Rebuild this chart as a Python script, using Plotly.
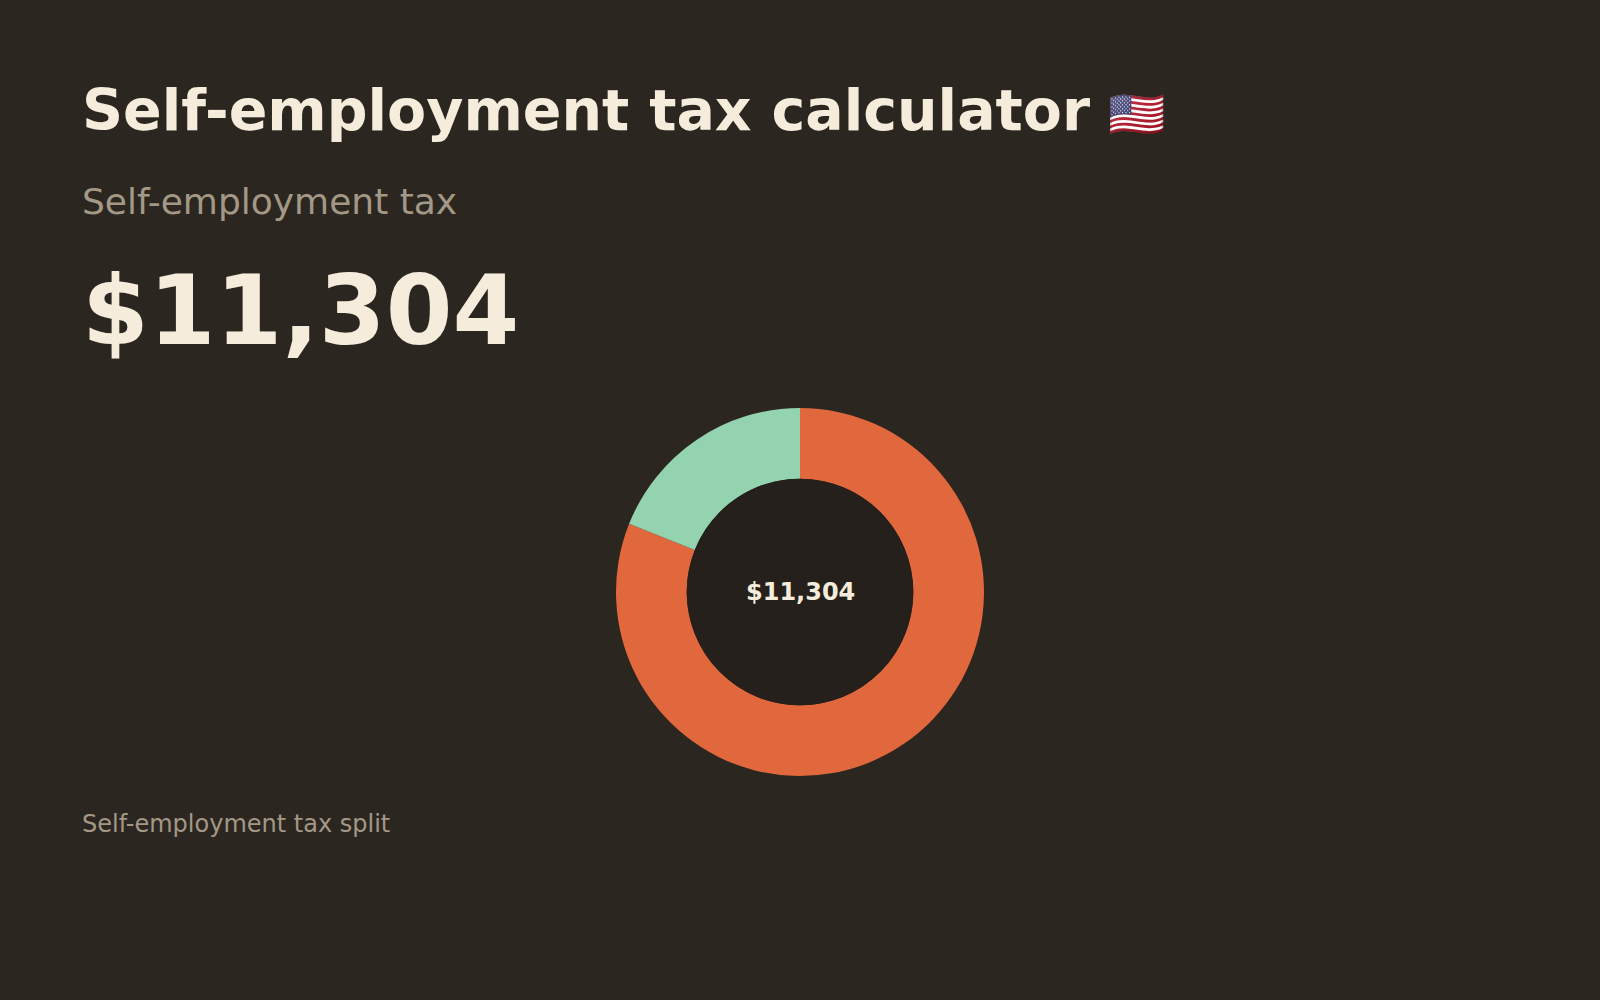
import plotly.graph_objects as go

# Data
title_text = "Self-employment tax calculator"
title_flag = "🇺🇸"
subtitle_text = "Self-employment tax"
total_label = "$11,304"
footer_text = "Self-employment tax split"
components = ["Social Security", "Medicare"]
amounts = [9161, 2143]
colors = ["#e0683c", "#93d3b0"]

BG = "#2b2620"
HOLE = "#25201b"
CREAM = "#f5ecdc"
GRAY = "#a39886"
FONT = "DejaVu Sans"

W, H = 1600, 1000
cx, cy = 800, 408  # from bottom
R_out, R_in = 184, 113.3

fig = go.Figure()
fig.add_trace(go.Pie(
    labels=components, values=amounts, sort=False, direction="clockwise",
    rotation=0, hole=R_in / R_out,
    marker=dict(colors=colors, line=dict(width=0)),
    textinfo="none", hoverinfo="label+value", showlegend=False,
    domain=dict(x=[(cx - R_out) / W, (cx + R_out) / W], y=[(cy - R_out) / H, (cy + R_out) / H]),
))
fig.add_trace(go.Pie(
    labels=["hole"], values=[1], sort=False,
    marker=dict(colors=[HOLE], line=dict(width=0)),
    textinfo="none", hoverinfo="skip", showlegend=False,
    domain=dict(x=[(cx - R_in) / W, (cx + R_in) / W], y=[(cy - R_in) / H, (cy + R_in) / H]),
))

annotations = [
    dict(text=f"<b>{title_text}</b> <span style='font-size:46px'>{title_flag}</span>",
         x=80 / W, y=1 - 110 / H, xanchor="left", yanchor="middle",
         font=dict(size=57, color=CREAM, family=FONT)),
    dict(text=subtitle_text, x=80 / W, y=1 - 202 / H, xanchor="left", yanchor="middle",
         font=dict(size=36, color=GRAY, family=FONT)),
    dict(text=f"<b>{total_label}</b>", x=80 / W, y=1 - 311 / H, xanchor="left", yanchor="middle",
         font=dict(size=96, color=CREAM, family=FONT)),
    dict(text=f"<b>{total_label}</b>", x=cx / W, y=cy / H, xanchor="center", yanchor="middle",
         font=dict(size=24, color=CREAM, family=FONT)),
    dict(text=footer_text, x=80 / W, y=1 - 824 / H, xanchor="left", yanchor="middle",
         font=dict(size=24, color=GRAY, family=FONT)),
]
for a in annotations:
    a.update(xref="paper", yref="paper", showarrow=False)

fig.update_layout(
    width=W, height=H, margin=dict(l=0, r=0, t=0, b=0),
    paper_bgcolor=BG, plot_bgcolor=BG,
    annotations=annotations,
)

fig.write_html("out.html", config={"displayModeBar": False},
               post_script="document.body.style.margin='0';document.body.style.background='%s';" % BG)
